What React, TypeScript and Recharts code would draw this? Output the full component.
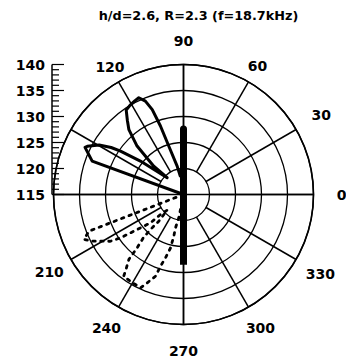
import React from 'react';
import {
  RadarChart,
  Radar,
  PolarGrid,
  PolarAngleAxis,
  PolarRadiusAxis,
  LineChart,
  XAxis,
  YAxis,
} from 'recharts';

// ---- data ---------------------------------------------------------------

const chartTitle = 'h/d=2.6, R=2.3 (f=18.7kHz)';

// solid trace (upper half), in drawing order: angle in degrees, level in dB
const solidAngles = [
  100, 102.6, 106.9, 108.6, 110.2, 112.2, 114.8, 117.5, 121, 124.2, 127.1, 130.1,
  133.8, 136.4, 134.3, 142.2, 145.5, 147, 149.6, 153.4, 154.4, 159.9,
];
const solidLevels = [
  118.6, 120.6, 124.7, 128.9, 132.4, 134.4, 135.5, 135.3, 135.0, 134.6, 132.9, 131.3,
  127.9, 122.9, 119.5, 125.5, 129.7, 131.6, 133.8, 135.7, 136.0, 133.7,
];

// dashed trace (lower half), in drawing order
const dashedAngles = [
  201.2, 204.3, 207.1, 209.9, 212.6, 214.5, 215.9, 217.8, 220.6, 221, 223.9, 227.2,
  226.7, 227.1, 229, 229.9, 232.9, 233.8, 239.8, 245.3, 247.6, 251.1, 252.2, 254.1,
  256.3, 256.9, 256.5, 258.6,
];
const dashedLevels = [
  134.5, 136.0, 134.7, 133.0, 131.7, 129.7, 127.6, 125.5, 123.4, 120.9, 119.35, 122.0,
  124.25, 126.3, 128.6, 131.3, 133.5, 134.5, 134.6, 134.75, 133.4, 131.6, 129.5, 127.7,
  125.6, 123.2, 121.6, 119.6,
];

// heavy bar along the 90/270 direction
const barAngles = [90, 270];
const barLevels = [127.6, 128.5];

// axes
const levelDomain: [number, number] = [115, 140];
const levelTicks = [
  115, 116, 117, 118, 119, 120, 121, 122, 123, 124, 125, 126, 127, 128, 129, 130,
  131, 132, 133, 134, 135, 136, 137, 138, 139, 140,
];
const angleTicks = [0, 30, 60, 90, 120, 150, 180, 210, 240, 270, 300, 330];
const unlabeledAngles = [150, 180, 360];

// ---- layout -------------------------------------------------------------

const W = 346;
const H = 362;
const CX = 183.5;
const CY = 194.5;
const R = 130;
const SPOKE_START = 26; // spokes begin at the 120 dB ring
const FONT = '"DejaVu Sans", "Liberation Sans", Arial, sans-serif';
const INK = '#000';

// distance of each angle label from the centre
const labelRadius: Record<number, number> = {
  0: 158, 30: 159, 60: 148, 90: 154, 120: 147, 210: 155, 240: 154, 270: 156, 300: 154, 330: 158,
};

type Row = { angle: number; solid: number | null; dashed: number | null; bar: number | null };

const rows: Row[] = [
  ...solidAngles.map((angle, i) => ({ angle, solid: solidLevels[i], dashed: null, bar: null })),
  ...dashedAngles.map((angle, i) => ({ angle, solid: null, dashed: dashedLevels[i], bar: null })),
  ...barAngles.map((angle, i) => ({ angle, solid: null, dashed: null, bar: barLevels[i] })),
];

const scaleRows = levelTicks.map((level) => ({ level }));

// Radar normally closes its polygon; these traces are open polylines,
// broken wherever a row carries no value for the series.
function openTrace(width: number, dash?: string, cap: 'round' | 'butt' = 'round') {
  return (props: any) => {
    const pts: any[] = props.points ?? [];
    const segs: string[] = [];
    let cur = '';
    pts.forEach((p) => {
      if (Number.isFinite(p.x) && Number.isFinite(p.y)) {
        cur += `${cur ? 'L' : 'M'}${p.x.toFixed(2)},${p.y.toFixed(2)}`;
      } else if (cur) {
        segs.push(cur);
        cur = '';
      }
    });
    if (cur) segs.push(cur);
    return (
      <path
        d={segs.join(' ')}
        fill="none"
        stroke={INK}
        strokeWidth={width}
        strokeDasharray={dash}
        strokeLinejoin="round"
        strokeLinecap={cap}
      />
    );
  };
}

const renderAngleLabel = (props: any) => {
  const value = Number(props.payload?.value);
  if (unlabeledAngles.includes(value)) return <g />;
  const coord = Number(props.payload?.coordinate ?? value);
  const a = (coord * Math.PI) / 180;
  const r = labelRadius[value] ?? 154;
  return (
    <text
      x={CX + r * Math.cos(a)}
      y={CY - r * Math.sin(a)}
      textAnchor="middle"
      dominantBaseline="central"
      fontFamily={FONT}
      fontWeight="bold"
      fontSize={14}
      fill={INK}
    >
      {value}
    </text>
  );
};

const renderScaleTick = (props: any) => {
  const { x, y } = props;
  const value = Number(props.payload?.value);
  const major = value % 5 === 0;
  return (
    <g>
      <line x1={x} x2={x + (major ? 12 : 7)} y1={y} y2={y} stroke={INK} strokeWidth={1.2} />
      {major && (
        <text
          x={x - 7}
          y={y}
          textAnchor="end"
          dominantBaseline="central"
          fontFamily={FONT}
          fontWeight="bold"
          fontSize={14}
          fill={INK}
        >
          {value}
        </text>
      )}
    </g>
  );
};

export default function App() {
  return (
    <div
      style={{
        position: 'absolute',
        left: 0,
        top: 0,
        width: W,
        height: H,
        background: '#fff',
        overflow: 'hidden',
      }}
    >
      <div
        style={{
          position: 'absolute',
          left: 48.5,
          top: 7,
          width: 300,
          textAlign: 'center',
          fontFamily: FONT,
          fontWeight: 'bold',
          fontSize: 12.8,
          lineHeight: '18px',
          color: INK,
          whiteSpace: 'nowrap',
        }}
      >
        {chartTitle}
      </div>

      <div style={{ position: 'absolute', left: 0, top: 0 }}>
        <RadarChart
          width={W}
          height={H}
          data={rows}
          cx={CX}
          cy={CY}
          innerRadius={0}
          outerRadius={R}
          startAngle={0}
          endAngle={360}
          margin={{ top: 0, right: 0, bottom: 0, left: 0 }}
        >
          <PolarGrid gridType="circle" radialLines={false} stroke={INK} strokeWidth={1.3} />
          <PolarGrid
            gridType="circle"
            polarRadius={[]}
            polarAngles={[0, 90, 180, 270]}
            stroke={INK}
            strokeWidth={1.5}
          />
          <PolarAngleAxis
            dataKey="angle"
            type="number"
            domain={[0, 360]}
            ticks={angleTicks as any}
            tickCount={13}
            orientation="inner"
            tickSize={R - SPOKE_START}
            axisLineType="circle"
            axisLine={{ stroke: INK, strokeWidth: 1.6 }}
            tickLine={{ stroke: INK, strokeWidth: 1.5 }}
            tick={renderAngleLabel}
          />
          <PolarRadiusAxis
            type="number"
            domain={levelDomain}
            tickCount={6}
            tick={false}
            axisLine={false}
          />
          <Radar
            dataKey="solid"
            stroke={INK}
            fill="none"
            isAnimationActive={false}
            shape={openTrace(3)}
          />
          <Radar
            dataKey="dashed"
            stroke={INK}
            fill="none"
            isAnimationActive={false}
            shape={openTrace(2.8, '2.5 5.5')}
          />
          <Radar
            dataKey="bar"
            stroke={INK}
            fill="none"
            isAnimationActive={false}
            shape={openTrace(7, undefined, 'butt')}
          />
        </RadarChart>
      </div>

      <div style={{ position: 'absolute', left: 0, top: 0 }}>
        <LineChart
          width={80}
          height={H}
          data={scaleRows}
          margin={{ top: CY - R, bottom: H - CY, left: 0, right: 0 }}
        >
          <XAxis hide />
          <YAxis
            dataKey="level"
            type="number"
            domain={levelDomain}
            ticks={levelTicks}
            interval={0}
            width={52}
            tickSize={0}
            tickMargin={0}
            tickLine={false}
            allowDataOverflow
            axisLine={{ stroke: INK, strokeWidth: 1.5 }}
            tick={renderScaleTick}
          />
        </LineChart>
      </div>
    </div>
  );
}
